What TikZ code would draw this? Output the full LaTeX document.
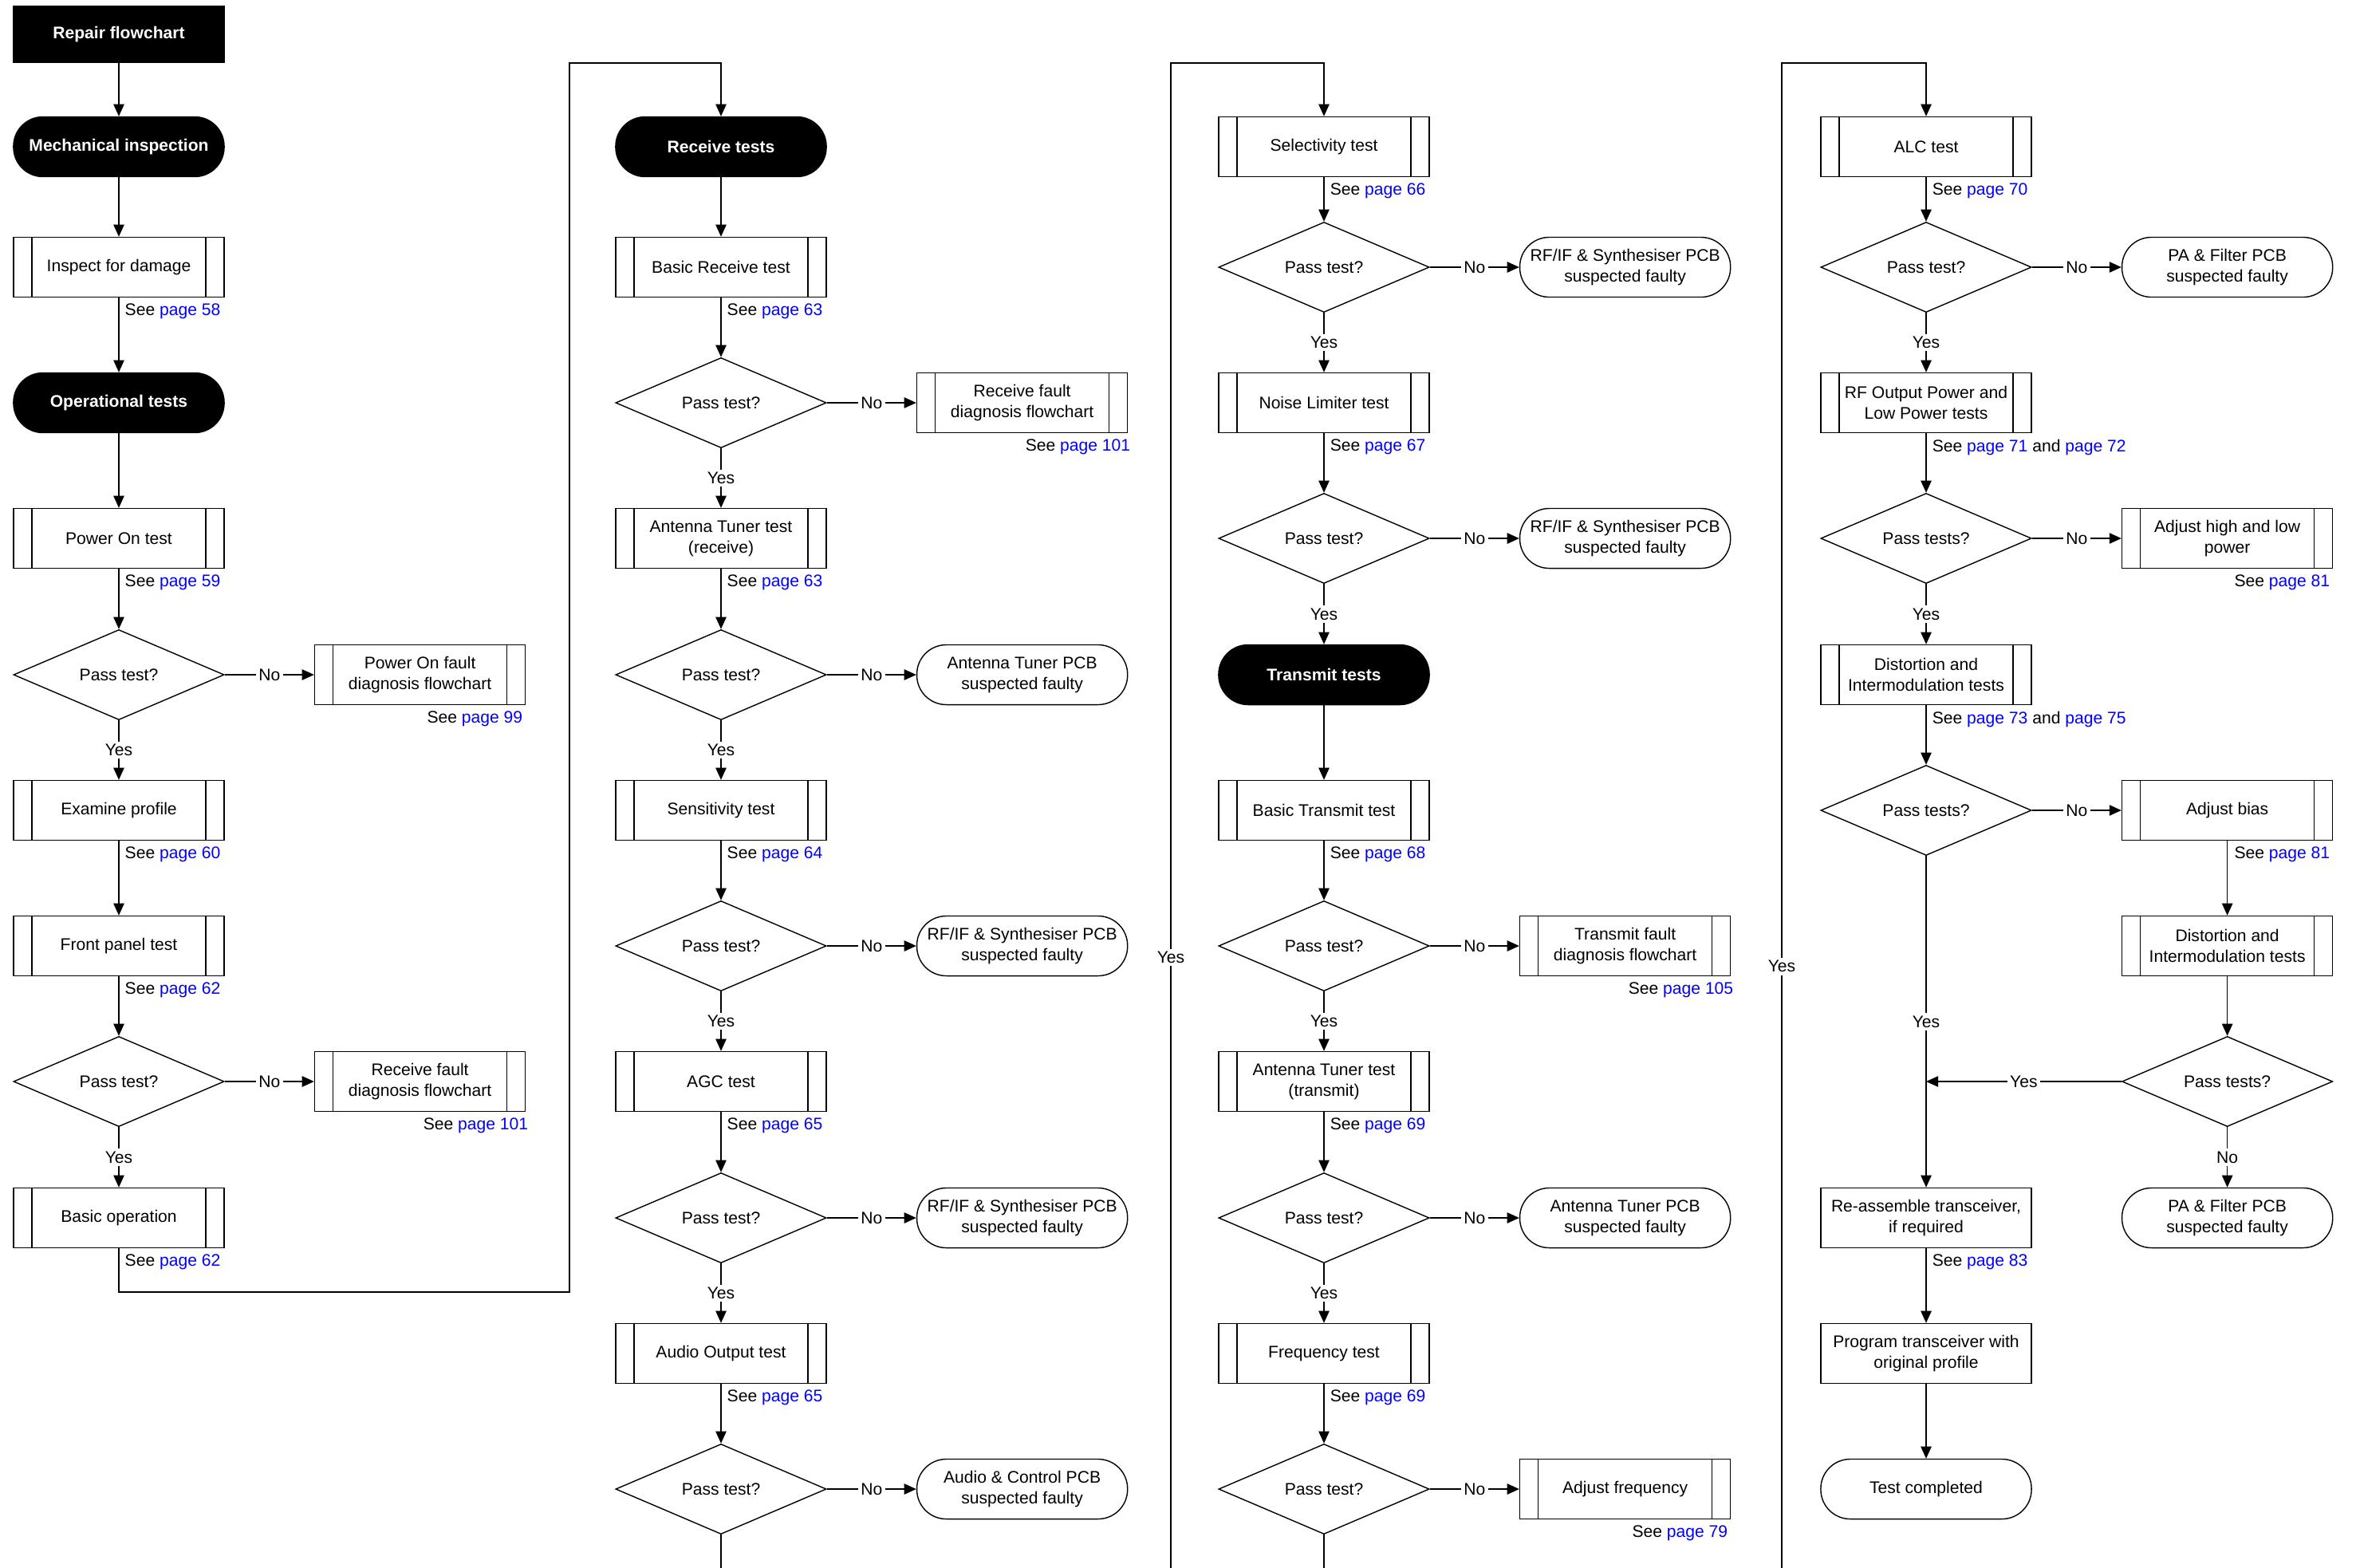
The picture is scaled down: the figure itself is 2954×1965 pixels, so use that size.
\documentclass[tikz,border=0pt]{standalone}
\usepackage{fontspec}
\setmainfont{Liberation Sans}
\usetikzlibrary{shapes,arrows.meta,positioning,calc}
\definecolor{pageblue}{rgb}{0.0,0.0,1.0}
\newcommand{\bluepage}[1]{\textcolor{pageblue}{page #1}}
\newcommand{\seepage}[1]{See \bluepage{#1}}

\begin{document}
\begin{tikzpicture}[
      x=0.01cm, y=-0.01cm, line width=0.4pt,
      font=\fontsize{6}{7.4}\selectfont,
      node distance=1.12cm,
      title/.style={rectangle, draw=black, fill=black, text=white, font=\fontsize{6}{7.4}\selectfont\bfseries, minimum width=2.64cm, minimum height=0.71cm},
      phase/.style={rectangle, rounded corners=10.5pt, draw=black, fill=black, text=white, font=\fontsize{6}{7.4}\selectfont\bfseries, minimum width=2.64cm, minimum height=0.75cm},
      proc/.style={rectangle, draw, align=center, inner sep=1pt, minimum width=2.64cm, minimum height=0.75cm,
        path picture={
          \draw ([xshift=0.23cm]path picture bounding box.north west) -- ([xshift=0.23cm]path picture bounding box.south west);
          \draw ([xshift=-0.23cm]path picture bounding box.north east) -- ([xshift=-0.23cm]path picture bounding box.south east);
        }},
      opbox/.style={rectangle, draw, align=center, inner sep=1pt, minimum width=2.64cm, minimum height=0.75cm},
      fault/.style={rectangle, rounded corners=10.5pt, draw, align=center, inner sep=1pt, minimum width=2.64cm, minimum height=0.75cm},
      decision/.style={diamond, draw, aspect=2.3, inner sep=0pt, minimum width=2.64cm, minimum height=1.13cm},
      lbl/.style={fill=white, inner sep=1pt},
      see/.style={inner sep=1pt},
      arrow/.style={->, >={Triangle[length=4.3pt,width=3.8pt]}}
    ]
      \useasboundingbox (0,0) rectangle (2954,1965);

      % first column
      \node[title] (repair) at (149,43) {Repair flowchart};
      \node[phase] (mech) at (149,184) {Mechanical inspection};
      \node[proc] (inspect) at (149,335) {Inspect for damage};
      \node[phase] (optests) at (149,505) {Operational tests};
      \node[proc] (poweron) at (149,675) {Power On test};
      \node[decision] (pass1) at (149,846) {Pass test?};
      \node[proc, right=of pass1] (pofault) {Power On fault\\diagnosis flowchart};
      \node[proc] (profile) at (149,1016) {Examine profile};
      \node[proc] (front) at (149,1186) {Front panel test};
      \node[decision] (pass2) at (149,1356) {Pass test?};
      \node[proc, right=of pass2] (rxfault1) {Receive fault\\diagnosis flowchart};
      \node[proc] (basicop) at (149,1527) {Basic operation};

      \node[see, below right=1pt and 1pt of inspect.south] (see58) {\seepage{58}};
      \node[see, below right=1pt and 1pt of poweron.south] (see59) {\seepage{59}};
      \node[see, below left=1pt and 0pt of pofault.south east] (see99) {\seepage{99}};
      \node[see, below right=1pt and 1pt of profile.south] (see60) {\seepage{60}};
      \node[see, below right=1pt and 1pt of front.south] (see62a) {\seepage{62}};
      \node[see, below left=1pt and -2pt of rxfault1.south east] (see101a) {\seepage{101}};
      \node[see, below right=1pt and 1pt of basicop.south] (see62b) {\seepage{62}};

      % second column
      \node[phase] (rxtests) at (904,184) {Receive tests};
      \node[proc] (basicrx) at (904,335) {Basic Receive test};
      \node[decision] (pass3) at (904,505) {Pass test?};
      \node[proc, right=of pass3] (rxfault2) {Receive fault\\diagnosis flowchart};
      \node[proc] (anttunrx) at (904,675) {Antenna Tuner test\\(receive)};
      \node[decision] (pass4) at (904,846) {Pass test?};
      \node[fault, right=of pass4] (antpcb1) {Antenna Tuner PCB\\suspected faulty};
      \node[proc] (sens) at (904,1016) {Sensitivity test};
      \node[decision] (pass5) at (904,1186) {Pass test?};
      \node[fault, right=of pass5] (rfif1) {RF/IF \& Synthesiser PCB\\suspected faulty};
      \node[proc] (agc) at (904,1356) {AGC test};
      \node[decision] (pass6) at (904,1527) {Pass test?};
      \node[fault, right=of pass6] (rfif2) {RF/IF \& Synthesiser PCB\\suspected faulty};
      \node[proc] (audio) at (904,1697) {Audio Output test};
      \node[decision] (pass7) at (904,1867) {Pass test?};
      \node[fault, right=of pass7] (audpcb) {Audio \& Control PCB\\suspected faulty};

      \node[see, below right=1pt and 1pt of basicrx.south] (see63a) {\seepage{63}};
      \node[see, below left=1pt and -2pt of rxfault2.south east] (see101b) {\seepage{101}};
      \node[see, below right=1pt and 1pt of anttunrx.south] (see63b) {\seepage{63}};
      \node[see, below right=1pt and 1pt of sens.south] (see64) {\seepage{64}};
      \node[see, below right=1pt and 1pt of agc.south] (see65a) {\seepage{65}};
      \node[see, below right=1pt and 1pt of audio.south] (see65b) {\seepage{65}};

      % third column
      \node[proc] (select) at (1660,184) {Selectivity test};
      \node[decision] (pass8) at (1660,335) {Pass test?};
      \node[fault, right=of pass8] (rfif3) {RF/IF \& Synthesiser PCB\\suspected faulty};
      \node[proc] (noise) at (1660,505) {Noise Limiter test};
      \node[decision] (pass9) at (1660,675) {Pass test?};
      \node[fault, right=of pass9] (rfif4) {RF/IF \& Synthesiser PCB\\suspected faulty};
      \node[phase] (txtests) at (1660,846) {Transmit tests};
      \node[proc] (basictx) at (1660,1016) {Basic Transmit test};
      \node[decision] (pass10) at (1660,1186) {Pass test?};
      \node[proc, right=of pass10] (txfault) {Transmit fault\\diagnosis flowchart};
      \node[proc] (anttuntx) at (1660,1356) {Antenna Tuner test\\(transmit)};
      \node[decision] (pass11) at (1660,1527) {Pass test?};
      \node[fault, right=of pass11] (antpcb2) {Antenna Tuner PCB\\suspected faulty};
      \node[proc] (freq) at (1660,1697) {Frequency test};
      \node[decision] (pass12) at (1660,1867) {Pass test?};
      \node[proc, right=of pass12] (adjfreq) {Adjust frequency};

      \node[see, below right=1pt and 1pt of select.south] (see66) {\seepage{66}};
      \node[see, below right=1pt and 1pt of noise.south] (see67) {\seepage{67}};
      \node[see, below right=1pt and 1pt of basictx.south] (see68) {\seepage{68}};
      \node[see, below left=1pt and -2pt of txfault.south east] (see105) {\seepage{105}};
      \node[see, below right=1pt and 1pt of anttuntx.south] (see69a) {\seepage{69}};
      \node[see, below right=1pt and 1pt of freq.south] (see69b) {\seepage{69}};
      \node[see, below left=1pt and 0pt of adjfreq.south east] (see79) {\seepage{79}};

      % fourth column
      \node[proc] (alc) at (2415,184) {ALC test};
      \node[decision] (pass13) at (2415,335) {Pass test?};
      \node[fault, right=of pass13] (pafilt1) {PA \& Filter PCB\\suspected faulty};
      \node[proc] (rfout) at (2415,505) {RF Output Power and\\Low Power tests};
      \node[decision] (pass14) at (2415,675) {Pass tests?};
      \node[proc, right=of pass14] (adjpwr) {Adjust high and low\\power};
      \node[proc] (dist1) at (2415,846) {Distortion and\\Intermodulation tests};
      \node[decision] (pass15) at (2415,1016) {Pass tests?};
      \node[proc, right=of pass15] (adjbias) {Adjust bias};
      \node[proc] (dist2) at (adjbias |- 0,1186) {Distortion and\\Intermodulation tests};
      \node[decision] (pass16) at (adjbias |- 0,1356) {Pass tests?};
      \node[fault] (pafilt2) at (adjbias |- 0,1527) {PA \& Filter PCB\\suspected faulty};
      \node[opbox] (reasm) at (2415,1527) {Re-assemble transceiver,\\if required};
      \node[opbox] (program) at (2415,1697) {Program transceiver with\\original profile};
      \node[fault] (done) at (2415,1867) {Test completed};

      \node[see, below right=1pt and 1pt of alc.south] (see70) {\seepage{70}};
      \node[see, below right=1pt and 1pt of rfout.south] (see7172) {\seepage{71} and \bluepage{72}};
      \node[see, below left=1pt and 0pt of adjpwr.south east] (see81a) {\seepage{81}};
      \node[see, below right=1pt and 1pt of dist1.south] (see7375) {\seepage{73} and \bluepage{75}};
      \node[see, below left=1pt and 0pt of adjbias.south east] (see81b) {\seepage{81}};
      \node[see, below right=1pt and 1pt of reasm.south] (see83) {\seepage{83}};

      \coordinate (lk1) at (714,1620);
      \coordinate (lk2) at (714,79);
      \coordinate (bot2) at (904,1970);
      \coordinate (lk3) at (1468,1970);
      \coordinate (lk4) at (1468,79);
      \coordinate (bot3) at (1660,1970);
      \coordinate (lk5) at (2234,1970);
      \coordinate (lk6) at (2234,79);
      \coordinate (join) at (2415,1356);

      \draw[arrow] (repair) -- (mech);
      \draw[arrow] (mech) -- (inspect);
      \draw[arrow] (inspect) -- (optests);
      \draw[arrow] (optests) -- (poweron);
      \draw[arrow] (poweron) -- (pass1);
      \draw[arrow] (pass1) -- node[lbl]{No} (pofault);
      \draw[arrow] (pass1) -- node[lbl]{Yes} (profile);
      \draw[arrow] (profile) -- (front);
      \draw[arrow] (front) -- (pass2);
      \draw[arrow] (pass2) -- node[lbl]{No} (rxfault1);
      \draw[arrow] (pass2) -- node[lbl]{Yes} (basicop);
      \draw[arrow] (basicop.south) |- (lk1) -- (lk2) -| (rxtests.north);

      \draw[arrow] (rxtests) -- (basicrx);
      \draw[arrow] (basicrx) -- (pass3);
      \draw[arrow] (pass3) -- node[lbl]{No} (rxfault2);
      \draw[arrow] (pass3) -- node[lbl]{Yes} (anttunrx);
      \draw[arrow] (anttunrx) -- (pass4);
      \draw[arrow] (pass4) -- node[lbl]{No} (antpcb1);
      \draw[arrow] (pass4) -- node[lbl]{Yes} (sens);
      \draw[arrow] (sens) -- (pass5);
      \draw[arrow] (pass5) -- node[lbl]{No} (rfif1);
      \draw[arrow] (pass5) -- node[lbl]{Yes} (agc);
      \draw[arrow] (agc) -- (pass6);
      \draw[arrow] (pass6) -- node[lbl]{No} (rfif2);
      \draw[arrow] (pass6) -- node[lbl]{Yes} (audio);
      \draw[arrow] (audio) -- (pass7);
      \draw[arrow] (pass7) -- node[lbl]{No} (audpcb);
      \draw (pass7.south) -- (bot2);

      \draw[arrow] (lk3) -- node[lbl, pos=0.407]{Yes} (lk4) -| (select.north);
      \draw[arrow] (select) -- (pass8);
      \draw[arrow] (pass8) -- node[lbl]{No} (rfif3);
      \draw[arrow] (pass8) -- node[lbl]{Yes} (noise);
      \draw[arrow] (noise) -- (pass9);
      \draw[arrow] (pass9) -- node[lbl]{No} (rfif4);
      \draw[arrow] (pass9) -- node[lbl]{Yes} (txtests);
      \draw[arrow] (txtests) -- (basictx);
      \draw[arrow] (basictx) -- (pass10);
      \draw[arrow] (pass10) -- node[lbl]{No} (txfault);
      \draw[arrow] (pass10) -- node[lbl]{Yes} (anttuntx);
      \draw[arrow] (anttuntx) -- (pass11);
      \draw[arrow] (pass11) -- node[lbl]{No} (antpcb2);
      \draw[arrow] (pass11) -- node[lbl]{Yes} (freq);
      \draw[arrow] (freq) -- (pass12);
      \draw[arrow] (pass12) -- node[lbl]{No} (adjfreq);
      \draw (pass12.south) -- (bot3);

      \draw[arrow] (lk5) -- node[lbl, pos=0.401]{Yes} (lk6) -| (alc.north);
      \draw[arrow] (alc) -- (pass13);
      \draw[arrow] (pass13) -- node[lbl]{No} (pafilt1);
      \draw[arrow] (pass13) -- node[lbl]{Yes} (rfout);
      \draw[arrow] (rfout) -- (pass14);
      \draw[arrow] (pass14) -- node[lbl]{No} (adjpwr);
      \draw[arrow] (pass14) -- node[lbl]{Yes} (dist1);
      \draw[arrow] (dist1) -- (pass15);
      \draw[arrow] (pass15) -- node[lbl]{No} (adjbias);
      \draw[arrow] (pass15) -- node[lbl]{Yes} (reasm);
      \draw[arrow] (adjbias) -- (dist2);
      \draw[arrow] (dist2) -- (pass16);
      \draw[arrow] (pass16) -- node[lbl]{No} (pafilt2);
      \draw[arrow] (pass16) -- node[lbl]{Yes} (join);
      \draw[arrow] (reasm) -- (program);
      \draw[arrow] (program) -- (done);
    \end{tikzpicture}
\end{document}
